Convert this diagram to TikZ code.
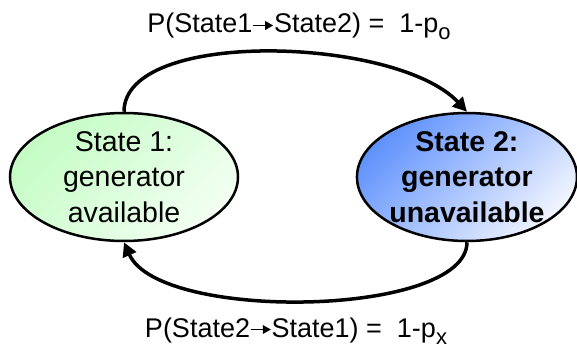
\documentclass[tikz,border=0pt]{standalone}
\usepackage{fontspec}
\setmainfont{Liberation Sans}
\usetikzlibrary{arrows.meta}
\usetikzlibrary{positioning}
\usetikzlibrary{shapes.geometric}

\definecolor{availgreen}{RGB}{196,252,196}
\definecolor{availpale}{RGB}{242,255,242}
\definecolor{downblue}{RGB}{96,146,252}
\definecolor{downpale}{RGB}{240,244,255}

% small arrow between the two states in the labels
\newcommand{\statearrow}{\tikz[baseline=0pt]\draw[line width=1.6pt,-{Triangle[length=8pt,width=8.5pt]}] (0pt,7.5pt) -- (20pt,7.5pt);}
\newcommand{\lowsub}[1]{\raisebox{-7pt}{\fontsize{22}{22}\selectfont #1}}

\begin{document}
\begin{tikzpicture}
    [x=1pt,y=1pt,
statenode/.style={ellipse, draw=black, line width=2.5pt, inner sep=-10pt, minimum width=228pt, minimum height=128pt, align=center, font=\fontsize{28.5}{35.5}\selectfont},
transarrow/.style={line width=3.5pt, -{Triangle[length=14pt,width=14pt]}},
problabel/.style={anchor=base, font=\fontsize{27}{32}\selectfont}
]

\useasboundingbox (0,0) rectangle (577,348);

\node[statenode, top color=availgreen, bottom color=availpale, shading angle=45](state1) at (124,171){State 1:\\generator\\available};
\node[statenode, top color=downblue, bottom color=downpale, shading angle=45, minimum width=220pt, font=\fontsize{28.5}{35.5}\selectfont\bfseries](state2)[right=of state1,xshift=88pt]{State 2:\\generator\\unavailable};

\node[problabel](p12) at (299,315){P(State1\statearrow State2) =\ \ 1-p\lowsub{o}};
\node[problabel](p21) at (296,11){P(State2\statearrow State1) =\ \ 1-p\lowsub{x}};

\draw[transarrow] (state1.north) .. controls +(0,84) and +(-70,75) .. (state2.north);
\draw[transarrow] (state2.south) .. controls +(0,-75) and +(35,-80) .. (state1.south);

\end{tikzpicture}
\end{document}
